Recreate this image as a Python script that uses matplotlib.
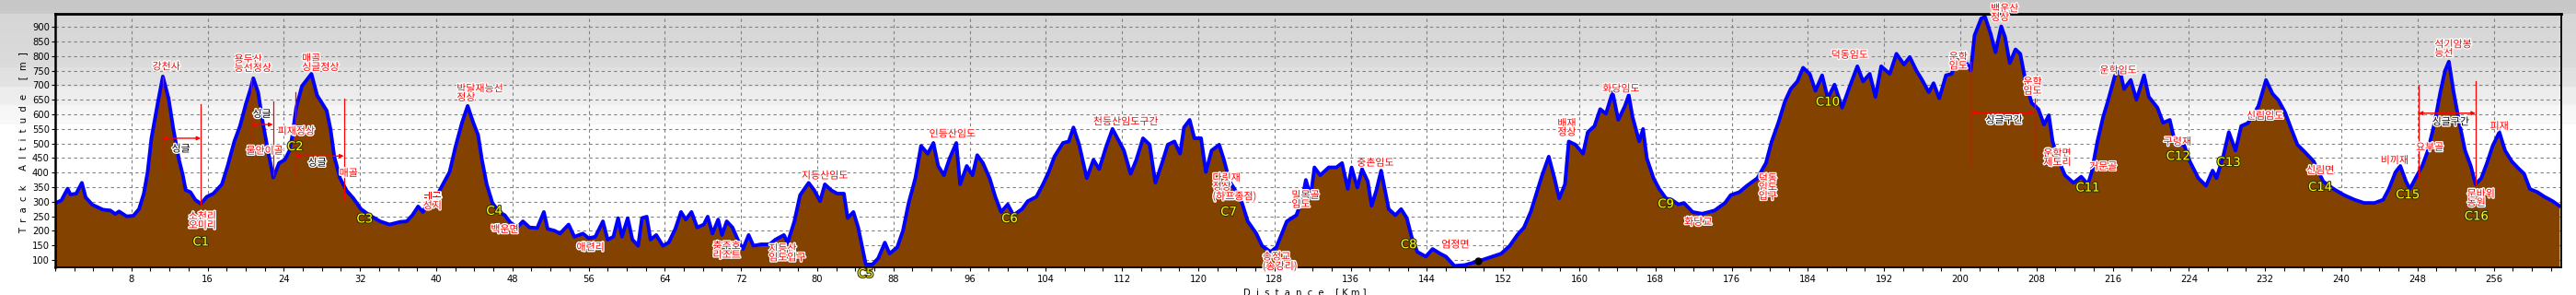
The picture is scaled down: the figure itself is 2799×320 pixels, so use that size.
import numpy as np
import matplotlib
matplotlib.use("Agg")
import matplotlib.pyplot as plt
import matplotlib.patheffects as pe

# track profile: distance [km] / altitude [m]
dist_km = [
    0.0, 0.65, 1.3, 1.6, 2.2, 2.8, 3.2, 3.9, 5.0, 5.8, 6.3, 6.7, 7.5, 8.2, 8.8, 9.3, 9.7,
    10.1, 10.8, 11.3, 11.9, 12.4, 13.0, 13.4, 13.7, 14.2, 14.7, 15.3, 15.9, 16.6, 17.5,
    18.1, 18.8, 19.4, 20.0, 20.5, 20.8, 21.3, 21.8, 22.4, 22.9, 23.5, 24.1, 24.6, 24.9,
    25.3, 25.9, 26.4, 26.9, 27.5, 28.0, 28.5, 28.9, 29.3, 29.9, 30.6, 31.3, 32.1, 33.0,
    34.1, 35.1, 36.2, 36.9, 37.5, 38.1, 38.6, 39.2, 40.1, 40.7, 41.4, 42.0, 42.7, 43.3,
    43.9, 44.4, 44.8, 45.3, 45.9, 46.6, 47.2, 47.8, 48.5, 49.1, 49.8, 50.6, 51.3, 51.7,
    52.4, 53.0, 53.9, 54.5, 55.4, 56.0, 56.7, 57.5, 58.0, 58.6, 59.1, 59.5, 60.1, 60.6,
    61.2, 61.6, 62.1, 62.5, 63.1, 63.8, 64.4, 65.1, 65.7, 66.2, 66.8, 67.4, 68.1, 68.5,
    69.0, 69.6, 70.0, 70.5, 71.1, 71.8, 72.2, 72.8, 73.3, 74.1, 75.0, 75.6, 76.5, 76.9,
    77.6, 78.2, 79.1, 79.7, 80.3, 80.8, 81.5, 82.1, 82.8, 83.2, 83.8, 84.3, 84.7, 85.1,
    85.8, 86.4, 87.1, 87.6, 88.4, 89.0, 89.6, 90.3, 90.9, 91.6, 92.2, 92.7, 93.3, 93.9,
    94.6, 95.0, 95.7, 96.3, 96.8, 97.4, 98.1, 98.7, 99.3, 100.0, 100.6, 101.5, 102.1,
    103.0, 103.7, 104.3, 104.9, 105.8, 106.4, 106.9, 107.5, 108.3, 109.0, 109.6, 110.3,
    111.0, 111.6, 112.2, 112.9, 113.5, 114.2, 114.9, 115.5, 116.2, 116.8, 117.5, 118.1,
    118.5, 119.1, 119.6, 120.3, 120.8, 121.4, 122.2, 122.7, 123.3, 123.9, 124.6, 125.2,
    126.1, 126.7, 127.6, 128.2, 128.9, 129.3, 130.3, 130.9, 131.3, 131.8, 132.2, 132.8,
    133.7, 134.5, 135.1, 135.7, 136.1, 136.7, 137.2, 137.8, 138.2, 138.7, 139.2, 140.0,
    140.7, 141.3, 141.9, 142.4, 143.0, 143.9, 144.6, 145.4, 146.0, 146.9, 148.0, 149.4,
    150.5, 151.8, 152.7, 153.5, 154.2, 154.9, 155.5, 156.1, 156.8, 157.4, 157.9, 158.5,
    158.9, 159.6, 160.4, 160.9, 161.6, 162.2, 162.8, 163.5, 164.1, 164.8, 165.2, 165.6,
    166.3, 166.7, 167.1, 167.8, 168.4, 169.1, 169.7, 170.4, 171.0, 171.9, 172.9, 174.2,
    175.3, 175.9, 176.8, 177.6, 178.7, 179.6, 180.2, 180.9, 181.6, 182.2, 182.9, 183.5,
    184.2, 184.8, 185.5, 186.1, 186.8, 187.6, 188.3, 189.2, 189.8, 190.5, 191.1, 191.7,
    192.6, 193.3, 194.1, 194.7, 195.4, 196.0, 196.7, 197.2, 197.8, 198.5, 199.1, 199.8,
    200.4, 201.1, 201.5, 202.2, 202.6, 203.2, 203.7, 204.3, 204.7, 205.2, 205.8, 206.3,
    206.9, 207.5, 208.2, 208.8, 209.3, 209.7, 210.3, 211.0, 211.9, 212.7, 213.4, 213.8,
    214.4, 215.0, 215.5, 216.2, 216.7, 217.2, 217.9, 218.5, 219.3, 219.8, 220.7, 221.3,
    222.0, 222.6, 223.5, 224.1, 225.0, 225.8, 226.5, 226.9, 227.6, 228.2, 228.9, 229.5,
    230.2, 231.3, 232.1, 232.8, 233.4, 234.1, 234.7, 235.4, 236.2, 237.1, 238.1, 239.2,
    240.3, 241.4, 242.4, 243.5, 244.4, 245.0, 245.7, 246.2, 246.8, 247.2, 247.8, 248.5,
    249.1, 249.8, 250.4, 250.9, 251.3, 251.8, 252.4, 253.0, 253.6, 254.1, 254.7, 255.3,
    255.9, 256.6, 257.2, 257.9, 258.5, 259.2, 259.8, 260.6, 261.3, 262.2, 262.9,
]
alt_m = [
    295, 305, 345, 325, 328, 365, 315, 290, 273, 270, 258, 267, 250, 252, 275, 328, 402,
    518, 645, 730, 655, 550, 444, 391, 340, 333, 307, 293, 317, 328, 360,
    423, 507, 560, 634, 687, 724, 676, 571, 465, 383, 433, 444, 476, 528,
    623, 697, 718, 739, 665, 639, 613, 550, 455, 381, 338, 312, 275, 254,
    233, 222, 231, 233, 254, 284, 265, 302, 323, 360, 402, 486, 571, 629,
    571, 529, 444, 360, 296, 265, 254, 228, 212, 233, 212, 210, 265, 207,
    201, 191, 222, 180, 191, 175, 180, 233, 170, 180, 244, 180, 244, 170,
    149, 244, 249, 170, 186, 149, 160, 207, 265, 239, 265, 212, 222, 249,
    191, 239, 186, 233, 212, 160, 138, 186, 149, 154, 154, 170, 186, 160,
    233, 323, 365, 339, 302, 360, 339, 328, 328, 244, 265, 212, 149, 85,
    85, 106, 160, 122, 144, 201, 296, 381, 492, 465, 502, 423, 391, 449,
    502, 360, 423, 391, 460, 433, 381, 317, 265, 291, 254, 275, 302,
    317, 360, 402, 455, 502, 507, 555, 496, 381, 444, 412, 486,
    550, 513, 476, 396, 444, 518, 496, 365, 433, 496, 507, 465,
    555, 581, 518, 518, 402, 476, 496, 444, 370, 339, 296, 233,
    191, 149, 128, 144, 201, 233, 254, 307, 375, 317, 418, 391,
    418, 418, 433, 344, 418, 349, 412, 370, 286, 339, 407, 275,
    254, 275, 244, 180, 128, 112, 138, 122, 112, 80, 83, 96,
    108, 122, 149, 186, 212, 265, 328, 391, 455, 381, 312, 360,
    507, 496, 465, 539, 560, 618, 602, 676, 581, 629, 666, 591,
    507, 550, 449, 381, 344, 312, 307, 291, 296, 265, 259, 270,
    296, 323, 333, 355, 381, 433, 507, 571, 645, 687, 713, 760,
    739, 681, 734, 655, 702, 623, 687, 765, 713, 739, 660, 765,
    739, 808, 771, 797, 750, 718, 676, 707, 655, 734, 739, 808,
    792, 750, 871, 929, 935, 876, 813, 902, 866, 776, 823, 808,
    707, 639, 618, 565, 597, 507, 444, 391, 365, 386, 360, 402,
    507, 591, 645, 729, 760, 687, 718, 650, 734, 660, 623, 571,
    581, 496, 496, 439, 381, 355, 407, 381, 455, 539, 476, 560,
    570, 628, 718, 670, 649, 607, 555, 496, 470, 439, 370, 344,
    323, 307, 296, 296, 307, 344, 402, 423, 370, 344, 381, 423,
    476, 571, 676, 750, 781, 676, 571, 476, 423, 360, 381, 433,
    492, 539, 476, 439, 418, 396, 344, 333, 318, 302, 286,
]

# place names (red)
place_text = ['강천사', '용두산\n능선정상', '매골\n싱글정상', '박달재능선\n정상', '피재정상',
              '물안이골', '매골', '소천리\n오미리', '베론\n성지', '백운면', '애련리',
              '충주호\n리조트', '지등산\n임도입구', '지등산임도', '인등산임도', '천등산임도구간',
              '다릿재\n정상\n(하프종점)', '송정교\n(송강리)', '밀목골\n임도', '중촌임도', '엄정면',
              '배재\n정상', '화당임도', '화당교', '덕동\n임도\n입구', '덕동임도', '운학\n임도',
              '백운산\n정상', '운학\n임도', '운학면\n제도리', '거문골', '운학임도', '구령재',
              '신림임도', '신림면', '비끼재', '요부골', '석기암봉\n능선', '피재', '문바위\n농원']
place_km = [11.66, 18.8, 25.9, 42.15, 25.3,
            22.0, 30.8, 15.45, 39.6, 47.2, 56.2,
            70.5, 74.9, 80.8, 94.2, 112.4,
            121.5, 126.75, 129.8, 138.6, 147.0,
            158.7, 164.4, 172.5, 179.8, 188.4, 199.8,
            203.2, 207.6, 210.2, 215.0, 216.6, 222.8,
            232.0, 237.8, 245.6, 249.3, 249.8, 256.6, 253.2]
place_alt = [763, 773, 776, 672, 541,
             474, 397, 234, 301, 204, 143,
             132, 123, 389, 532, 574,
             349, 94, 306, 433, 152,
             553, 687, 230, 349, 803, 781,
             947, 695, 450, 420, 750, 505,
             594, 407, 441, 486, 824, 558, 311]
place_ha = ['center', 'left', 'left', 'left', 'center',
            'center', 'center', 'center', 'center', 'center', 'center',
            'center', 'left', 'center', 'center', 'center',
            'left', 'left', 'left', 'center', 'center',
            'center', 'center', 'center', 'center', 'center', 'center',
            'left', 'center', 'center', 'center', 'center', 'center',
            'center', 'center', 'center', 'center', 'left', 'center', 'left']

# checkpoints (yellow)
cp_text = ['C1', 'C2', 'C3', 'C4', 'C5', 'C6', 'C7', 'C8', 'C9', 'C10',
           'C11', 'C12', 'C13', 'C14', 'C15', 'C16']
cp_km = [15.3, 25.2, 32.5, 46.1, 85.1, 100.2, 123.2, 142.1, 169.1, 186.1,
         213.4, 222.9, 228.2, 237.8, 247.0, 254.2]
cp_alt = [161, 488, 240, 267, 52, 241, 264, 152, 291, 641,
          347, 455, 434, 349, 323, 249]

# single-track sections: start/end km, top of the two marker lines, bottom, arrow height
single_text = ['싱글', '싱글', '싱글', '싱글구간', '싱글구간']
single_start = [11.26, 20.6, 25.2, 201.1, 248.1]
single_end = [15.28, 22.86, 30.3, 207.8, 254.1]
single_top1 = [729, 724, 676, 782, 697]
single_bot1 = [407, 513, 382, 423, 381]
single_top2 = [634, 645, 655, 655, 713]
single_bot2 = [291, 391, 307, 444, 360]
single_arrow = [518, 565, 457, 606, 604]
single_label_km = [13.2, 21.7, 27.5, 204.6, 251.5]
single_label_alt = [481, 600, 433, 579, 573]

W, H = 2799, 320
fig = plt.figure(figsize=(W / 100, H / 100), dpi=100)

# grey-to-white banded backdrop
bg = fig.add_axes([0, 0, 1, 1], zorder=-5)
rows = np.arange(H)
shade = np.interp(rows, [0, 14, 15, 72, 73, 93, 94, 113, 114, 134, 135, H],
                  [0.78, 0.79, 0.84, 0.86, 0.88, 0.89, 0.925, 0.935, 0.965, 0.975, 1.0, 1.0])
bg.imshow(np.repeat(shade[:, None, None], 3, axis=2), aspect='auto', extent=(0, 1, 0, 1))
bg.axis('off')

ax = fig.add_axes([60 / W, 30 / H, (2783 - 60) / W, (305 - 30) / H])
ax.set_facecolor('none')

ax.fill_between(dist_km, alt_m, 0, color='#844200', lw=0, zorder=2)
ax.plot(dist_km, alt_m, color='#0000ff', lw=2.8, solid_joinstyle='round', zorder=3)
ax.plot([149.4], [96], 'o', color='black', ms=5, zorder=4)
ax.plot([39.2], [302], '+', color='#0000ff', ms=6, mew=1, zorder=4)

ax.set_xlim(0, 263.1)
ax.set_ylim(75, 945)
ax.set_xticks(np.arange(0, 257, 8))
ax.set_xticklabels([''] + [str(v) for v in range(8, 257, 8)])
ax.set_xticks(np.arange(0, 263, 2), minor=True)
ax.set_yticks(np.arange(100, 901, 50))
ax.grid(True, color='#808080', lw=0.8, ls=(0, (3, 3)), zorder=1)
ax.tick_params(axis='x', which='both', direction='out', length=3, width=0.8,
               labelsize=7.2, pad=3)
ax.tick_params(axis='y', direction='out', length=3, width=0.8, labelsize=7.2, pad=1.5)
for s in ax.spines.values():
    s.set_linewidth(1.3)
    s.set_zorder(6)
ax.spines['top'].set_linewidth(2)
ax.spines['left'].set_linewidth(1.8)

kr = ['Noto Sans CJK KR', 'DejaVu Sans']
red_fx = [pe.withStroke(linewidth=2, foreground='white')]

for t, x, y, ha in zip(place_text, place_km, place_alt, place_ha):
    ax.text(x, y, t, family=kr, fontsize=7.9, color='#ff0000', ha=ha, va='center',
            multialignment=ha, linespacing=0.95, path_effects=red_fx, zorder=7)

for t, x, y in zip(cp_text, cp_km, cp_alt):
    ax.text(x, y, t, fontsize=9.5, color='#ffff00', ha='center', va='center',
            path_effects=[pe.withStroke(linewidth=1.6, foreground='#303000')], zorder=7)

for i in range(len(single_text)):
    x1, x2 = single_start[i], single_end[i]
    ax.plot([x1, x1], [single_bot1[i], single_top1[i]], color='#ff0000', lw=0.9, zorder=5)
    ax.plot([x2, x2], [single_bot2[i], single_top2[i]], color='#ff0000', lw=0.9, zorder=5)
    ax.annotate('', xy=(x2, single_arrow[i]), xytext=(x1, single_arrow[i]),
                arrowprops=dict(arrowstyle='<|-|>', color='#ff0000', lw=1,
                                mutation_scale=6, shrinkA=0, shrinkB=0), zorder=5)
    ax.text(single_label_km[i], single_label_alt[i], single_text[i], family=kr,
            fontsize=7.9, color='black', ha='center', va='center',
            path_effects=[pe.withStroke(linewidth=2, foreground='white')], zorder=7)

fig.text(25 / W, 1 - 155 / H, '  '.join('Track Altitude [m]'), rotation=90,
         fontsize=7.2, ha='center', va='center')
fig.text(1418 / W, 1 - 312 / H, '  '.join('Distance') + '    [ K m ]', fontsize=7.2,
         ha='center', va='top')

fig.savefig('out.png', dpi=100)
